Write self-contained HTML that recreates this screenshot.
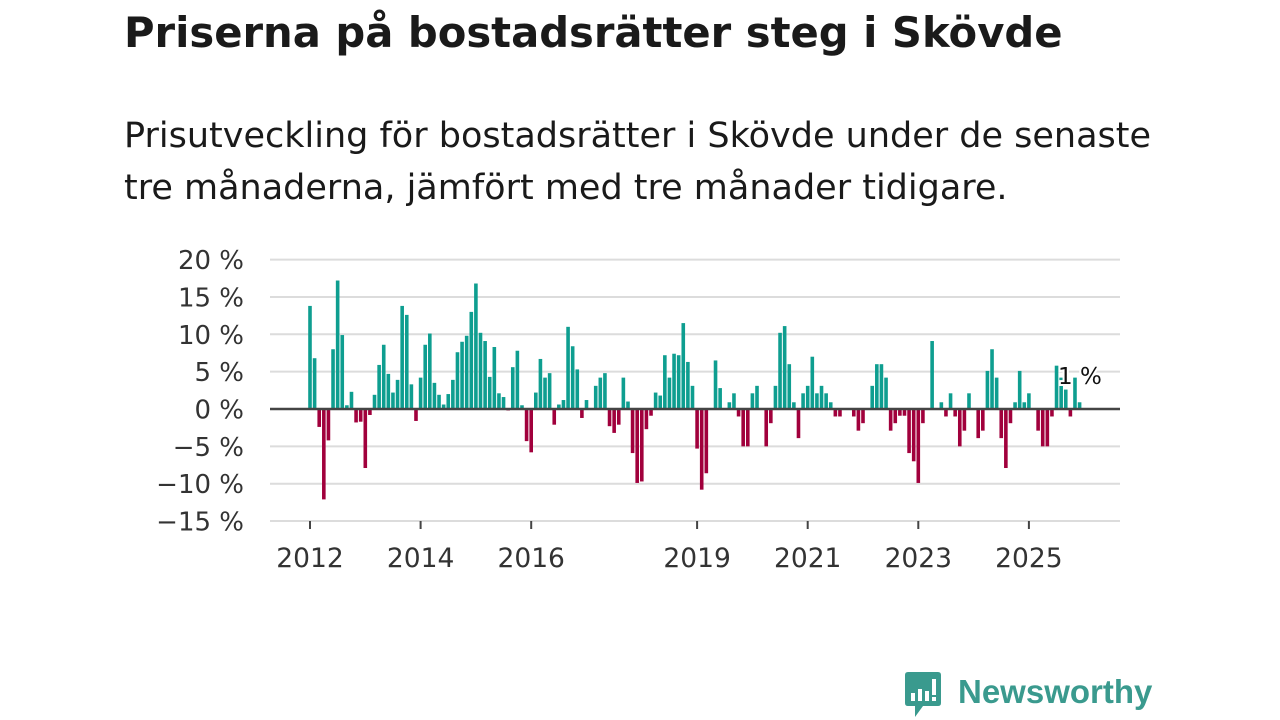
<!DOCTYPE html>
<html><head><meta charset="utf-8"><style>
body{margin:0;width:1280px;height:720px;background:#fff;font-family:"DejaVu Sans","Liberation Sans",sans-serif;color:#1a1a1a;overflow:hidden;position:relative}
h1{position:absolute;left:124px;top:8px;margin:0;font-size:41.7px;font-weight:bold;white-space:nowrap}
.sub{position:absolute;left:124px;top:110px;margin:0;font-size:35px;line-height:52px;width:1150px;white-space:nowrap}
svg{position:absolute;left:0;top:0}
</style></head><body>
<h1>Priserna på bostadsrätter steg i Skövde</h1>
<p class="sub">Prisutveckling för bostadsrätter i Skövde under de senaste<br>tre månaderna, jämfört med tre månader tidigare.</p>
<svg id="chart" width="1280" height="720"></svg>
<div style="position:absolute;left:903px;top:671px;display:flex;align-items:center">
<svg width="40" height="48" style="position:static"><path d="M2 4 Q2 1 5 1 L35 1 Q38 1 38 4 L38 32 Q38 35 35 35 L20 35 L12 46 L12 35 L5 35 Q2 35 2 32Z" fill="#3a9a8e"/><rect x="8" y="22" width="4" height="8" fill="#fff"/><rect x="15" y="18" width="4" height="12" fill="#fff"/><rect x="22" y="20" width="4" height="10" fill="#fff"/><rect x="29" y="8" width="4" height="16" fill="#fff"/><rect x="29" y="26" width="4" height="4" fill="#fff"/></svg>
<span style="font-family:'Liberation Sans',sans-serif;font-size:33px;font-weight:600;color:#3a9a8e;margin-left:15px;margin-top:-6px">Newsworthy</span>
</div>
<script>
const yTicks=[20,15,10,5,0,-5,-10,-15];
const yTickLabels=["20 %","15 %","10 %","5 %","0 %","−5 %","−10 %","−15 %"];
const xTickYears=[2012,2014,2016,2019,2021,2023,2025];
const startYear=2012;
const values=[13.8,6.8,-2.4,-12.1,-4.2,8.0,17.2,9.9,0.5,2.3,-1.8,-1.7,
-7.9,-0.8,1.9,5.9,8.6,4.7,2.2,3.9,13.8,12.6,3.3,-1.6,
4.2,8.6,10.1,3.5,1.9,0.6,2.0,3.9,7.6,9.0,9.8,13.0,
16.8,10.2,9.1,4.3,8.3,2.1,1.6,-0.2,5.6,7.8,0.5,-4.3,
-5.8,2.2,6.7,4.2,4.8,-2.1,0.6,1.2,11.0,8.4,5.3,-1.2,
1.2,0,3.1,4.2,4.8,-2.3,-3.2,-2.1,4.2,1.0,-5.9,-9.9,
-9.7,-2.7,-0.9,2.2,1.8,7.2,4.2,7.4,7.2,11.5,6.3,3.1,
-5.3,-10.8,-8.6,0,6.5,2.8,0,0.9,2.1,-1.0,-5.0,-5.0,
2.1,3.1,0,-5.0,-1.9,3.1,10.2,11.1,6.0,0.9,-3.9,2.1,
3.1,7.0,2.1,3.1,2.1,0.9,-1.0,-1.0,0,0,-1.0,-2.9,
-1.9,0,3.1,6.0,6.0,4.2,-2.9,-1.9,-0.9,-0.9,-5.9,-7.0,
-9.9,-1.9,0,9.1,0,0.9,-1.0,2.1,-1.0,-5.0,-2.9,2.1,
0,-3.9,-2.9,5.1,8.0,4.2,-3.9,-7.9,-1.9,0.9,5.1,0.9,
2.1,0,-2.9,-5.0,-5.0,-1.0,5.8,4.2,2.6,-1.0,4.2,0.9];
const NS="http://www.w3.org/2000/svg";
const svg=document.getElementById('chart');
const x0=270,x1=1120,year0X=310,yearW=55.3;
const y=v=>409-v*7.47;
const xm=i=>year0X+i*yearW/12;
const xy=yr=>year0X+(yr-startYear)*yearW;
function mk(t,a){const e=document.createElementNS(NS,t);for(const k in a)e.setAttribute(k,a[k]);svg.appendChild(e);return e;}
yTicks.forEach((t,i)=>{
 if(t!==0){const l=mk('line',{x1:x0,x2:x1,y1:y(t),y2:y(t),stroke:'#dcdcdc','stroke-width':2});
 
 }
 const tx=mk('text',{x:244,y:y(t)+9.5,'text-anchor':'end','font-size':26,fill:'#333','font-family':'DejaVu Sans, Liberation Sans, sans-serif'});
 tx.textContent=yTickLabels[i];
 
 
});
values.forEach((v,i)=>{
 if(v===0)return;
 const yy=v>0?y(v):y(0),h=Math.abs(y(v)-y(0));
 const r=mk('rect',{x:xm(i)-1.8,y:yy,width:3.6,height:h,fill:v>0?'#0e9e90':'#a1003c'});
 
 
});
const zl=mk('line',{x1:x0,x2:x1,y1:y(0),y2:y(0),stroke:'#444','stroke-width':2.5});


xTickYears.forEach(yr=>{
 const tk=mk('line',{x1:xy(yr),x2:xy(yr),y1:521,y2:529,stroke:'#444','stroke-width':2});
 
 
 const t=mk('text',{x:xy(yr),y:567,'text-anchor':'middle','font-size':26.5,fill:'#333','font-family':'DejaVu Sans, Liberation Sans, sans-serif'});
 t.textContent=yr;
 
 
});
const lab=mk('text',{x:1058,y:384,'font-size':23,fill:'#111',stroke:'#fff','stroke-width':4,'paint-order':'stroke','font-family':'DejaVu Sans, Liberation Sans, sans-serif'});
lab.textContent='1 %';


</script>
</body></html>
